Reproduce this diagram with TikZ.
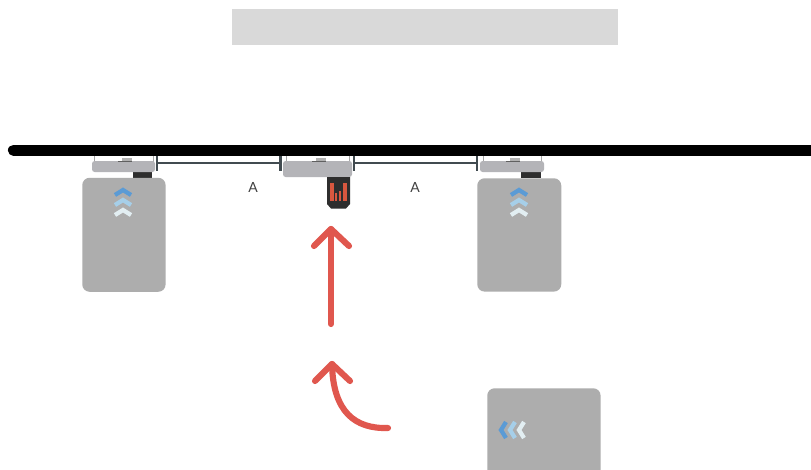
\documentclass[tikz,border=0pt]{standalone}
\usepackage{fontspec}
\setmainfont{Lato}
\usetikzlibrary{calc}
\definecolor{cardgray}{HTML}{ADADAD}
\definecolor{basegray}{HTML}{B4B4B8}
\definecolor{dimcol}{HTML}{414B50}
\definecolor{redarrow}{HTML}{E0574E}
\definecolor{chevA}{HTML}{5B9BD5}
\definecolor{chevB}{HTML}{A6CFE9}
\definecolor{chevC}{HTML}{E2EEF2}
\definecolor{devdark}{HTML}{2E2E2E}
\definecolor{devred}{HTML}{D9573F}
\tikzset{
  x=0.75pt,y=-0.75pt,
  card/.style={fill=cardgray,rounded corners=5.5pt},
  basebar/.style={fill=basegray,rounded corners=2pt},
  bracket/.style={draw=gray!70,line width=0.5pt,fill=white},
  dimline/.style={draw=dimcol,line width=1.6pt},
  dimtick/.style={draw=dimcol,line width=1.6pt},
  redline/.style={draw=redarrow,line width=4.6pt,line cap=round,line join=round},
  chev/.style={line width=3.2pt,line cap=butt,line join=miter},
  lab/.style={font=\fontsize{10.5pt}{12pt}\selectfont,text=black!75,inner sep=0pt},
}
\newcommand{\upchevs}[2]{%
  \draw[chev,chevA] (#1-8,#2+8) -- (#1,#2+3) -- (#1+8,#2+8);
  \draw[chev,chevB] (#1-8,#2+18) -- (#1,#2+13) -- (#1+8,#2+18);
  \draw[chev,chevC] (#1-8,#2+28) -- (#1,#2+23) -- (#1+8,#2+28);
}
\newcommand{\mountunit}[4]{% left, right, bottom of base, bracket inset
  \draw[bracket] (#1+#4,155) -- (#1+#4,161) -- (#2-#4,161) -- (#2-#4,155);
  \fill[basebar] (#1,161) -- (#2,161) -- (#2,#3) -- (#1,#3) -- cycle;
  \fill[gray!75!black] ({(#1+#2)/2-6},160.5) rectangle ({(#1+#2)/2+8},162);
  \fill[gray!60] ({(#1+#2)/2-2},157.5) rectangle ({(#1+#2)/2+8},160.5);
}
\begin{document}
\begin{tikzpicture}
\useasboundingbox (0,0) rectangle (811,469);
\fill[white] (0,0) rectangle (811,469);
% top band
\node[fill=black!15,minimum width=289.5pt,minimum height=27pt,inner sep=0pt,anchor=north west] (band) at (232,9) {};
% dark blocks behind the cards
\fill[devdark] (132.5,171) rectangle (152,178);
\fill[devdark] (521,171) rectangle (541,178);
% mounting units
\mountunit{92}{155}{172}{2}
\mountunit{283}{352}{177}{3}
\mountunit{480}{544}{172}{3}
% cards
\node[card,minimum width=62.5pt,minimum height=85.5pt,inner sep=0pt,anchor=north west] (cardL) at (82,177.5) {};
\node[card,minimum width=63pt,minimum height=85pt,inner sep=0pt,anchor=north west] (cardR) at (477,178) {};
\begin{scope}
\clip (0,0) rectangle (811,469);
\node[card,minimum width=85pt,minimum height=70pt,inner sep=0pt,anchor=north west] (cardB) at (487,388) {};
\end{scope}
\upchevs{123}{187}
\upchevs{519}{187}
\draw[chev,chevA] (506,422) -- (501,430) -- (506,438);
\draw[chev,chevB] (515,422) -- (510,430) -- (515,438);
\draw[chev,chevC] (524,422) -- (519,430) -- (524,438);
% middle device
\fill[devdark] (327,177) -- (350,177) -- (350,204) -- (346,208.5) -- (331,208.5) -- (327,204) -- cycle;
\fill[devred] (330,183) rectangle (333.5,201);
\fill[devred] (343,183) rectangle (347,201);
\fill[devred] (335,193) rectangle (337,201);
\fill[devred] (338.5,191) rectangle (341,201);
% black rail
\draw[line width=8.4pt,line cap=round,black] (13.5,150.2) -- (830,150.2);
% dimension ticks and lines
\coordinate (t1a) at (157,156); \coordinate (t1b) at (157,171);
\coordinate (t2a) at (280.5,156); \coordinate (t2b) at (280.5,171);
\coordinate (t3a) at (354,156); \coordinate (t3b) at (354,171);
\coordinate (t4a) at (477,156); \coordinate (t4b) at (477,171);
\draw[dimtick] (t1a) -- (t1b);
\draw[dimtick] (t2a) -- (t2b);
\draw[dimtick] (t3a) -- (t3b);
\draw[dimtick] (t4a) -- (t4b);
\draw[dimline] ($(t1a)!0.47!(t1b)$) -- ($(t2a)!0.47!(t2b)$);
\draw[dimline] ($(t3a)!0.47!(t3b)$) -- ($(t4a)!0.47!(t4b)$);
\node[lab] (labA) at (253,187) {A};
\node[lab] (labB) at (415,187) {A};
% red arrows
\coordinate (s1) at (331,324); \coordinate (e1) at (331,229);
\draw[redline] (s1) -- (e1);
\draw[redline] (314,246) -- (e1) -- (349,246);
\coordinate (s2) at (388,428); \coordinate (e2) at (332,364);
\draw[redline] (s2) .. controls (355,429) and (333,412) .. (e2);
\draw[redline] (315,381) -- (e2) -- (350,381);
\end{tikzpicture}
\end{document}
